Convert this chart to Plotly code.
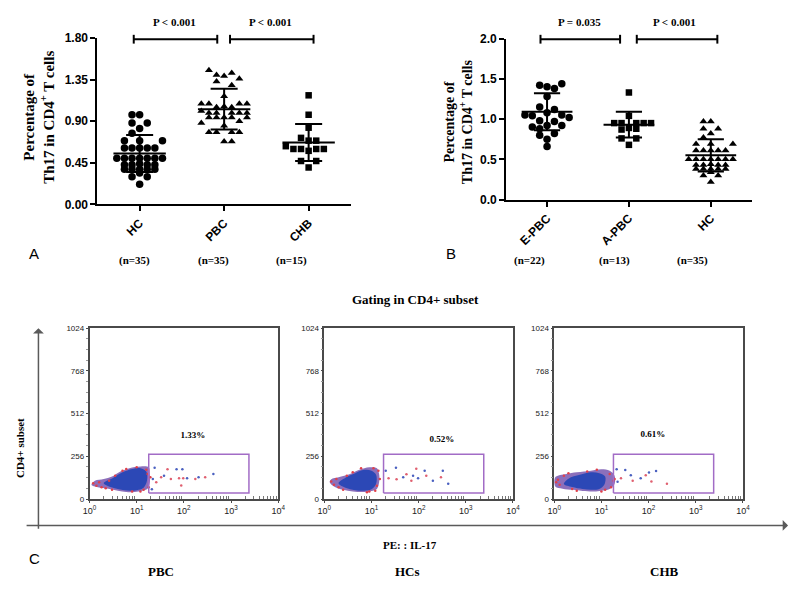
import plotly.graph_objects as go

W, H = 800, 589

# ---------- panel A : Th17 % by group ----------
cats_a = ["HC", "PBC", "CHB"]
n_a = ["(n=35)", "(n=35)", "(n=15)"]
p_a = ["P < 0.001", "P < 0.001"]

hc_vals = [0.97, 0.97, 0.88, 0.88, 0.82, 0.77, 0.69, 0.69, 0.69,
           0.61, 0.61, 0.61, 0.61, 0.61,
           0.50, 0.50, 0.50, 0.50, 0.50, 0.50, 0.50, 0.44,
           0.43, 0.43, 0.43, 0.43, 0.38, 0.38, 0.38, 0.38, 0.38,
           0.34, 0.30, 0.30, 0.22]
hc_slots = [-1, 0, -1, 1, 0, -1, -2, 0, 3,
            -2, -1, 0, 1, 2,
            -3, -2, -1, 0, 1, 2, 3, 0,
            -2, -1, 1, 2, -2, -1, 0, 1, 2,
            0, -1, 1, 0]

pbc_vals = [1.45, 1.40, 1.39, 1.42, 1.33, 1.36, 1.29, 1.17,
            1.09, 1.09, 1.09, 1.09, 1.05, 1.06, 1.05, 1.01,
            0.99, 0.99, 0.99, 0.99, 0.99, 0.94, 0.94, 0.94, 0.94, 0.94,
            0.88, 0.85, 0.90, 0.78, 0.78, 0.78, 0.78, 0.68, 0.68]
pbc_slots = [-2, -1, 0, 1, -1, 2, 1, 0,
             -3, -2, 2, 3, -1, 0, 1, -3,
             -2, -1, 1, 2, 3, -2, -1, 0, 1, 3,
             -3, 0, 2, -2, -1, 1, 2, 0, 1]

chb_vals = [1.18, 0.97, 0.83, 0.72, 0.69, 0.69, 0.63, 0.60, 0.60, 0.60, 0.60,
            0.58, 0.47, 0.47, 0.40]
chb_slots = [0, 0, 0, -1, 0, 1, -3, -2, -1, 1, 2, 0, -1, 1, 0]

mean_a = [0.55, 1.03, 0.67]
sd_a = [0.20, 0.22, 0.20]

# ---------- panel B : PBC stages ----------
cats_b = ["E-PBC", "A-PBC", "HC"]
n_b = ["(n=22)", "(n=13)", "(n=35)"]
p_b = ["P = 0.035", "P < 0.001"]

epbc_vals = [1.42, 1.40, 1.38, 1.44, 1.28, 1.15, 1.12,
             1.05, 1.04, 1.08, 1.05, 1.02, 0.98, 0.97,
             0.90, 0.92, 0.92, 0.88, 0.80, 0.82, 0.75, 0.66]
epbc_slots = [-1, 0, 1, 2, 0, -1, 1,
              -3, -2, 0, 2, 3, -1, 1,
              -2, 0, 2, -1, -1, 1, 0, 0]

apbc_vals = [1.33, 1.04, 0.95, 0.95, 0.95, 0.95, 0.95, 0.87, 0.89, 0.88, 0.76, 0.76, 0.68]
apbc_slots = [0, 0, -2, -1, 1, 2, 3, -1, 0, 1, -1, 1, 0]

mean_b = [1.09, 0.93, 0.55]
sd_b = [0.23, 0.16, 0.20]

# ---------- panel C : flow cytometry gating ----------
flow_groups = ["PBC", "HCs", "CHB"]
flow_pct = ["1.33%", "0.52%", "0.61%"]
gate_x = [18, 2400]
gate_y = [36, 268]

cloud_outer = [
    ([1.1, 1.5, 2.5, 4, 6, 9, 13, 17, 19, 19, 18, 12, 7, 4.5, 3, 2, 1.3],
     [85, 70, 62, 50, 42, 42, 50, 62, 100, 150, 190, 195, 185, 165, 135, 120, 110]),
    ([1.3, 1.6, 2.5, 4, 7, 10, 13, 14.5, 14.5, 13, 9, 5.5, 3.5, 2, 1.4],
     [100, 75, 55, 45, 42, 48, 60, 100, 150, 185, 190, 175, 150, 130, 118]),
    ([1.05, 1.5, 2.5, 4, 7, 10, 15, 19, 19, 15, 10, 6, 3, 1.8, 1.05],
     [75, 62, 55, 48, 45, 50, 60, 90, 140, 170, 178, 170, 160, 150, 130]),
]
cloud_core = [
    ([2.0, 2.8, 4.2, 7, 10, 14, 16.5, 16, 12, 8, 5, 3.2],
     [95, 72, 58, 50, 53, 68, 110, 165, 185, 180, 160, 128]),
    ([2.0, 2.8, 4.5, 7, 10, 12.5, 12.5, 10, 7, 4.5, 2.8],
     [95, 68, 53, 50, 58, 90, 145, 170, 175, 155, 128]),
    ([1.6, 2.4, 4, 6, 9, 11.5, 12, 9, 6, 3.5, 2.0],
     [90, 72, 60, 55, 60, 85, 135, 155, 160, 145, 122]),
]
speckle_x = [
    [1.2, 1.8, 2.6, 3.5, 5, 16, 18, 12, 8, 1.6, 19.5, 1.4, 2.2, 6, 10, 14, 17, 3],
    [1.4, 2, 3, 13, 14, 6, 9, 1.8, 15, 1.6, 2.5, 4, 11, 8, 12],
    [1.1, 1.6, 2.4, 15, 18, 12, 8, 1.3, 19, 1.2, 3, 5, 16, 10, 2],
]
speckle_y = [
    [95, 70, 110, 140, 170, 175, 70, 45, 45, 100, 130, 80, 65, 180, 190, 55, 150, 55],
    [105, 70, 140, 80, 170, 185, 45, 120, 120, 85, 55, 160, 185, 40, 50],
    [100, 140, 60, 150, 110, 55, 175, 85, 120, 115, 50, 165, 70, 45, 155],
]
event_x = [
    [22, 26, 33, 38, 53, 70, 79, 93, 97, 88, 117, 175, 205, 283, 423, 21, 24, 45],
    [20, 23, 33, 34, 47, 55, 76, 89, 97, 134, 145, 200, 297, 325, 423, 70],
    [21, 26, 32, 42, 46, 68, 87, 102, 115, 144, 245, 22],
]
event_y = [
    [120, 101, 130, 140, 120, 178, 124, 178, 124, 81, 124, 120, 130, 130, 150, 58, 188, 178],
    [169, 124, 188, 119, 130, 149, 140, 182, 124, 169, 140, 110, 130, 169, 91, 110],
    [178, 124, 174, 143, 110, 124, 143, 159, 105, 168, 91, 103],
]
event_c = [
    ["b", "r", "r", "b", "r", "b", "r", "b", "r", "r", "b", "r", "b", "r", "b", "b", "b", "r"],
    ["b", "r", "b", "r", "b", "r", "b", "r", "b", "b", "r", "b", "r", "b", "b", "r"],
    ["b", "r", "b", "b", "r", "b", "r", "b", "r", "b", "r", "b"],
]
pct_x = [155, 310, 123]
pct_y = [378, 357, 388]

SERIF = "Liberation Serif"
SANS = "Liberation Sans"
STEP = 0.09

fig = go.Figure()


def add_group(xa, ya, i, vals, slots, symbol, size):
    fig.add_trace(go.Scatter(
        x=[i + s * STEP for s in slots], y=vals, mode="markers",
        marker=dict(symbol=symbol, size=size, color="black", line=dict(width=0)),
        xaxis=xa, yaxis=ya, showlegend=False, cliponaxis=False, hoverinfo="skip"))


def add_mean_sd(xa, ya, i, m, sd):
    xs = [i - 0.31, i + 0.31, None, i, i, None,
          i - 0.16, i + 0.16, None, i - 0.16, i + 0.16]
    ys = [m, m, None, m - sd, m + sd, None,
          m + sd, m + sd, None, m - sd, m - sd]
    fig.add_trace(go.Scatter(x=xs, y=ys, mode="lines",
                             line=dict(color="black", width=2),
                             xaxis=xa, yaxis=ya, showlegend=False, hoverinfo="skip"))


# panel A
for i, (v, s, sym, sz) in enumerate([(hc_vals, hc_slots, "circle", 7.5),
                                     (pbc_vals, pbc_slots, "triangle-up", 7),
                                     (chb_vals, chb_slots, "square", 6.5)]):
    add_group("x", "y", i, v, s, sym, sz)
    add_mean_sd("x", "y", i, mean_a[i], sd_a[i])

# panel B
for i, (v, s, sym, sz) in enumerate([(epbc_vals, epbc_slots, "circle", 7.5),
                                     (apbc_vals, apbc_slots, "square", 6.5),
                                     (hc_vals, hc_slots, "triangle-up", 7)]):
    add_group("x2", "y2", i, v, s, sym, sz)
    add_mean_sd("x2", "y2", i, mean_b[i], sd_b[i])

# panel C flow plots
for k in range(3):
    xa, ya = "x%d" % (k + 3), "y%d" % (k + 3)
    ox, oy = cloud_outer[k]
    fig.add_trace(go.Scatter(x=ox + [ox[0]], y=oy + [oy[0]], mode="lines", fill="toself",
                             fillcolor="rgba(110,75,170,0.8)", line=dict(width=0, shape="spline"),
                             xaxis=xa, yaxis=ya, showlegend=False, hoverinfo="skip"))
    cx, cy = cloud_core[k]
    fig.add_trace(go.Scatter(x=cx + [cx[0]], y=cy + [cy[0]], mode="lines", fill="toself",
                             fillcolor="#2c48b6", line=dict(width=0, shape="spline"),
                             xaxis=xa, yaxis=ya, showlegend=False, hoverinfo="skip"))
    fig.add_trace(go.Scatter(x=speckle_x[k], y=speckle_y[k], mode="markers",
                             marker=dict(size=2.5, color="#e0404a"),
                             xaxis=xa, yaxis=ya, showlegend=False, hoverinfo="skip"))
    cols = ["#e06070" if c == "r" else "#4a60c0" for c in event_c[k]]
    fig.add_trace(go.Scatter(x=event_x[k], y=event_y[k], mode="markers",
                             marker=dict(size=2.5, color=cols),
                             xaxis=xa, yaxis=ya, showlegend=False, hoverinfo="skip"))
    gx = [gate_x[0], gate_x[1], gate_x[1], gate_x[0], gate_x[0]]
    gy = [gate_y[0], gate_y[0], gate_y[1], gate_y[1], gate_y[0]]
    fig.add_trace(go.Scatter(x=gx, y=gy, mode="lines", line=dict(color="#a26cc6", width=1.5),
                             xaxis=xa, yaxis=ya, showlegend=False, hoverinfo="skip"))
    fig.add_trace(go.Scatter(x=[pct_x[k]], y=[pct_y[k]], mode="text", text=[flow_pct[k]],
                             textfont=dict(family=SERIF, size=9, color="black", weight="bold"),
                             xaxis=xa, yaxis=ya, showlegend=False, hoverinfo="skip"))


def px_x(p):
    return p / W


def px_y(p):
    return 1 - p / H


tick_font = dict(family=SANS, size=12, color="black", weight="bold")
cat_axis = dict(range=[-0.5, 2.5], showline=True, linecolor="black", linewidth=2,
                ticks="outside", tickwidth=2, ticklen=5, tickcolor="black",
                tickvals=[0, 1, 2], tickangle=-45, tickfont=tick_font,
                showgrid=False, zeroline=False)
val_axis = dict(showline=True, linecolor="black", linewidth=2, ticks="outside",
                tickwidth=2, ticklen=5, tickcolor="black", tickfont=tick_font,
                showgrid=False, zeroline=False)

layout = dict(
    width=W, height=H, margin=dict(l=0, r=0, t=0, b=0),
    paper_bgcolor="white", plot_bgcolor="white", showlegend=False,
    xaxis=dict(cat_axis, domain=[px_x(92), px_x(350)], ticktext=cats_a, anchor="y"),
    yaxis=dict(val_axis, domain=[px_y(202.3), px_y(31.7)], range=[0, 1.8],
               tickvals=[0, 0.45, 0.9, 1.35, 1.8], tickformat=".2f", anchor="x"),
    xaxis2=dict(cat_axis, domain=[px_x(508), px_x(758)], ticktext=cats_b, anchor="y2"),
    yaxis2=dict(val_axis, domain=[px_y(197.3), px_y(32.3)], range=[0, 2.0],
                tickvals=[0, 0.5, 1.0, 1.5, 2.0], tickformat=".1f", anchor="x2"),
)

flow_dom = [(84, 276), (323, 515), (557, 749)]
minor_x = [m * 10 ** d for d in range(4) for m in range(2, 10)]
for k, (l, r) in enumerate(flow_dom):
    n = k + 3
    layout["xaxis%d" % n] = dict(
        type="log", range=[0, 4], domain=[px_x(l), px_x(r)], anchor="y%d" % n,
        showline=True, mirror=True, linecolor="#4a4a4a", linewidth=1.5,
        tickvals=[1, 10, 100, 1000, 10000],
        ticktext=["10<sup>%d</sup>" % d for d in range(5)],
        ticks="outside", ticklen=2, tickcolor="#4a4a4a",
        tickfont=dict(family=SANS, size=9, color="#222"),
        minor=dict(tickvals=minor_x, ticks="inside", ticklen=3, tickcolor="#777"),
        showgrid=False, zeroline=False)
    layout["yaxis%d" % n] = dict(
        range=[0, 1024], domain=[px_y(504), px_y(329)], anchor="x%d" % n,
        showline=True, mirror=True, linecolor="#4a4a4a", linewidth=1.5,
        tickvals=[0, 256, 512, 768, 1024], ticks="outside", ticklen=2, tickcolor="#4a4a4a",
        tickfont=dict(family=SANS, size=8, color="#222"),
        minor=dict(dtick=64, ticks="outside", ticklen=2, tickcolor="#999"),
        showgrid=False, zeroline=False)

fig.update_layout(**layout)


def note(text, x, y, size=11, family=SERIF, bold=True, angle=0, color="black"):
    fig.add_annotation(text=text, x=px_x(x), y=px_y(y), xref="paper", yref="paper",
                       showarrow=False, xanchor="center", yanchor="middle", textangle=angle,
                       font=dict(family=family, size=size, color=color,
                                 weight="bold" if bold else "normal"))


# y-axis titles
note("Percentage of<br>Th17 in CD4<sup>+</sup> T cells", 33, 113, size=15, angle=-90)
note("Percentage of<br>Th17 in CD4<sup>+</sup> T cells", 459, 117, size=14, angle=-90)

# panel letters
note("A", 27, 253, size=15, family=SANS, bold=False)
note("B", 452, 252, size=15, family=SANS, bold=False)
note("C", 28, 565, size=15, family=SANS, bold=False)

# group sizes
for t, x in zip(n_a, [130, 210, 290]):
    note(t, x, 260)
for t, x in zip(n_b, [532, 618, 698]):
    note(t, x, 260)

# p-values and brackets
for t, x in zip(p_a + p_b, [170, 268, 583, 679]):
    note(t, x, 15)
for x0, x1 in [(129, 214), (227, 312), (543, 624), (641, 723)]:
    for sx0, sy0, sx1, sy1 in [(x0, 33, x1, 33), (x0, 28.5, x0, 37.5), (x1, 28.5, x1, 37.5)]:
        fig.add_shape(type="line", xref="paper", yref="paper",
                      x0=px_x(sx0), y0=px_y(sy0), x1=px_x(sx1), y1=px_y(sy1),
                      line=dict(color="black", width=2))

# panel C texts
note("Gating in CD4+ subset", 416, 300, size=13)
note("CD4+ subset", 13, 452, size=11, angle=-90)
note("PE: : IL-17", 410, 551, size=11)
for t, x in zip(flow_groups, [157, 408, 669]):
    note(t, x, 578, size=13)

# big axis arrows for panel C
fig.add_annotation(x=px_x(795), y=px_y(531), xref="paper", yref="paper", ax=-763, ay=0,
                   axref="pixel", ayref="pixel", showarrow=True, arrowhead=1, arrowsize=1.2,
                   arrowwidth=1.5, arrowcolor="#5a5a5a", text="")
fig.add_annotation(x=px_x(32), y=px_y(329), xref="paper", yref="paper", ax=0, ay=202,
                   axref="pixel", ayref="pixel", showarrow=True, arrowhead=1, arrowsize=1.2,
                   arrowwidth=1.5, arrowcolor="#5a5a5a", text="")

fig.write_html("out.html", config={"displayModeBar": False},
               post_script="document.body.style.margin='0px';")
